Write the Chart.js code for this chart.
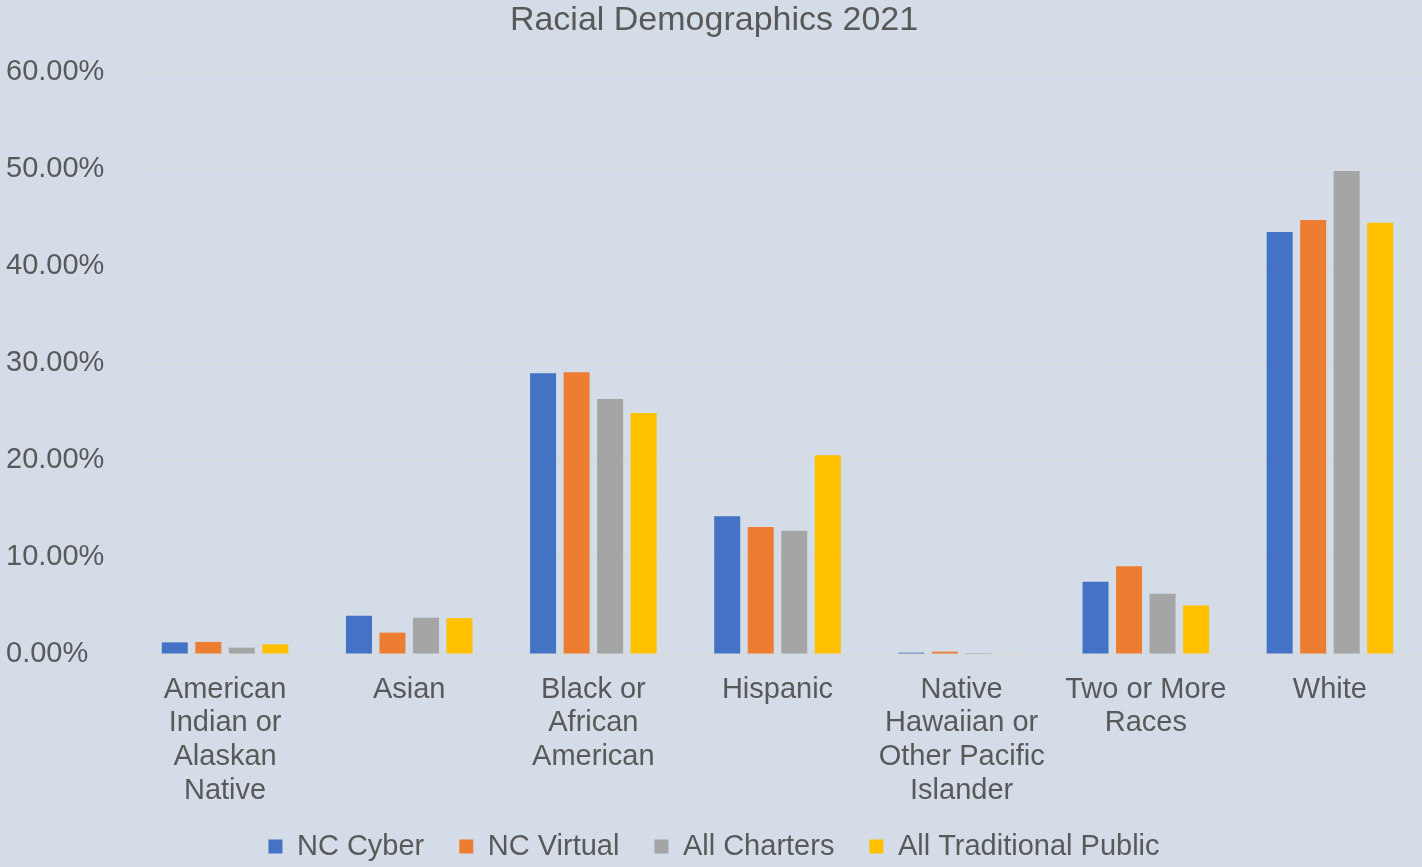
<!DOCTYPE html>
<html>
<head>
<meta charset="utf-8">
<script src="https://cdn.jsdelivr.net/npm/chart.js@4.4.0/dist/chart.umd.min.js"></script>
<style>
html, body { margin: 0; padding: 0; background: #D3DCE7; }
#wrap { width: 1422px; height: 867px; position: relative; }
</style>
</head>
<body>
<div id="wrap"><canvas id="c"></canvas></div>
<script>
const categories = [
  ["American", "Indian or", "Alaskan", "Native"],
  "Asian",
  ["Black or", "African", "American"],
  "Hispanic",
  ["Native", "Hawaiian or", "Other Pacific", "Islander"],
  ["Two or More", "Races"],
  "White"
];
const seriesNames = ["NC Cyber", "NC Virtual", "All Charters", "All Traditional Public"];
const ncCyber = [1.2, 3.95, 28.95, 14.2, 0.14, 7.45, 43.5];
const ncVirtual = [1.25, 2.2, 29.05, 13.1, 0.24, 9.05, 44.75];
const allCharters = [0.65, 3.75, 26.3, 12.7, 0.1, 6.2, 49.8];
const allTraditionalPublic = [1.0, 3.7, 24.85, 20.5, 0.06, 5.0, 44.45];
const yTicks = [0, 10, 20, 30, 40, 50, 60];
const colors = ["#4472C4", "#ED7D31", "#A5A5A5", "#FFC000"];

const FONT = "'Liberation Sans', Arial, sans-serif";
const TEXT = "#595959";
const allSeries = [ncCyber, ncVirtual, allCharters, allTraditionalPublic];

new Chart(document.getElementById('c'), {
  type: 'bar',
  data: {
    labels: categories,
    datasets: allSeries.map((d, i) => ({
      label: seriesNames[i],
      data: d,
      backgroundColor: colors[i],
      borderWidth: 0,
      categoryPercentage: 0.728,
      barPercentage: 0.776
    }))
  },
  options: {
    responsive: true,
    maintainAspectRatio: false,
    animation: false,
    devicePixelRatio: 1,
    layout: { padding: { left: 6, right: 0, top: 0, bottom: -4 } },
    plugins: {
      title: {
        display: true,
        text: 'Racial Demographics 2021',
        color: TEXT,
        font: { family: FONT, size: 34, weight: 'normal', lineHeight: 1.2 },
        padding: { top: 0, bottom: 31.2 }
      },
      legend: {
        position: 'bottom',
        labels: {
          color: TEXT,
          font: { family: FONT, size: 29 },
          boxWidth: 14,
          boxHeight: 14,
          padding: 35
        }
      },
      tooltip: { enabled: false }
    },
    scales: {
      x: {
        grid: { display: false, drawTicks: false },
        border: { display: false },
        ticks: {
          color: TEXT,
          font: { family: FONT, size: 29, lineHeight: '33.6px' },
          autoSkip: false,
          maxRotation: 0,
          minRotation: 0,
          padding: 19
        },
        afterFit: (s) => {
          s.height = 143;
          s._computeLabelArea = () => ({ top: 0, left: 0, bottom: s.chart.height, right: s.chart.width });
        }
      },
      y: {
        min: 0,
        max: 60,
        afterBuildTicks: (s) => { s.ticks = yTicks.map(v => ({ value: v })); },
        grid: { color: '#D9D9D9', lineWidth: 1, drawTicks: false },
        border: { display: false },
        ticks: {
          color: TEXT,
          font: { family: FONT, size: 29 },
          crossAlign: 'far',
          padding: 0,
          callback: (v) => Number(v).toFixed(2) + '%'
        },
        afterFit: (s) => { s.width = 127; }
      }
    }
  }
});
</script>
</body>
</html>
